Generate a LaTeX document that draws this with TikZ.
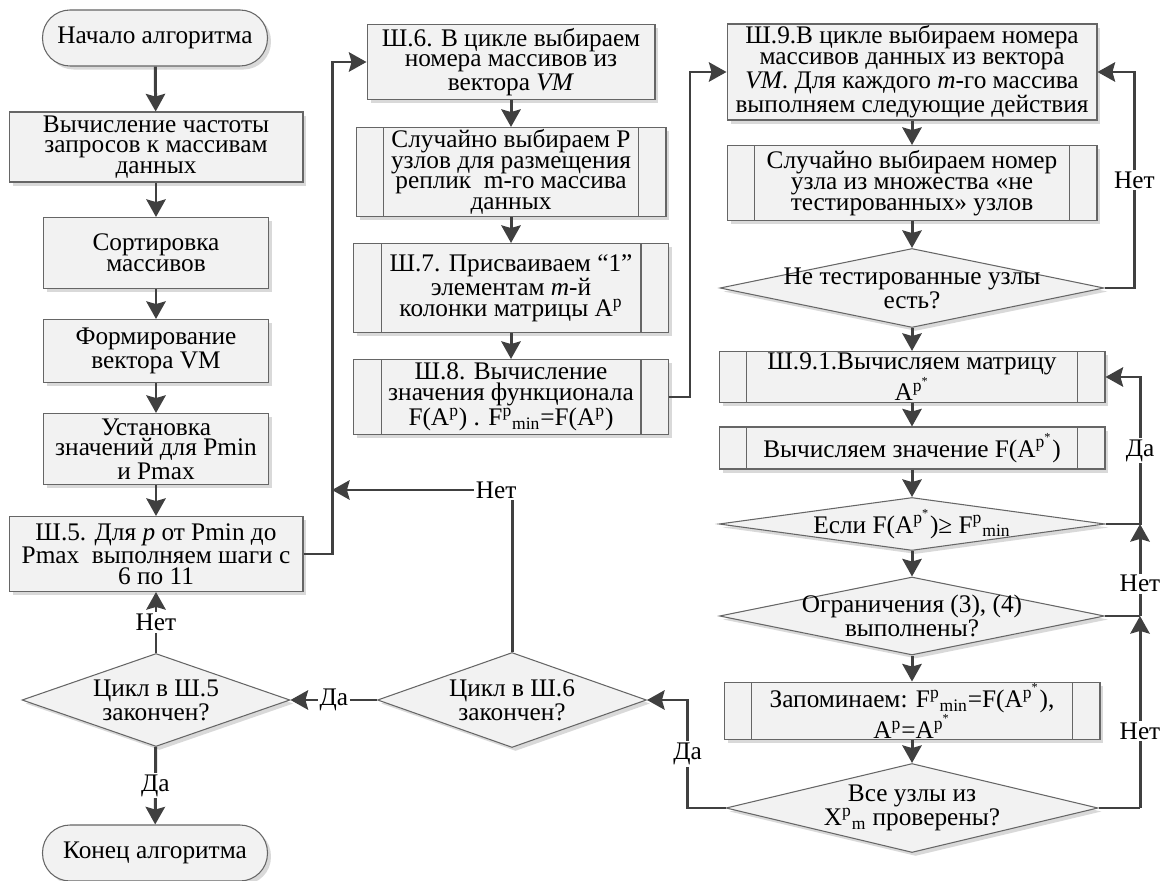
\documentclass[tikz,border=0pt]{standalone}
\usepackage{fontspec}
\setmainfont{Liberation Serif}
\usetikzlibrary{arrows.meta,shapes.geometric,shadows}
\newcommand\inset{0.55cm}
\newcommand\fs[1]{\fontsize{#1}{11.8}\selectfont}

\begin{document}
\begin{tikzpicture}[
      x=0.02cm, y=-0.02cm,
      font=\fs{14.4},
      block/.style = {
        draw=black!60,
        line width=0.6pt,
        fill=black!5,
        align=center,
        inner sep=1pt,
        drop shadow={shadow xshift=2pt, shadow yshift=-2pt, fill=black!15, opacity=1},
      },
      term/.style = {
        block,
        rounded corners=0.55cm,
        minimum width=4.5cm,
        minimum height=1.12cm,
      },
      subproc/.style = {
        block,
        path picture={
          \draw[black!60, line width=0.6pt]
            ([xshift=\inset]path picture bounding box.north west) -- ([xshift=\inset]path picture bounding box.south west)
            ([xshift=-\inset]path picture bounding box.north east) -- ([xshift=-\inset]path picture bounding box.south east);
        },
      },
      dec/.style = {
        block,
        diamond,
        inner sep=0pt,
      },
      arr/.style = {
        draw=black!75,
        line width=1.7pt,
        -{Stealth[length=10pt, width=11pt, inset=1.5pt]},
      },
      wire/.style = {
        draw=black!75,
        line width=1.7pt,
      },
      lbl/.style = {
        fill=white,
        inner sep=1pt,
      },
      every label/.style = {align=center},
    ]
      \useasboundingbox (0,0) rectangle (1169,881);

      % left column
      \node[term] (start) at (155,38) {Начало алгоритма};
      \node[block, minimum width=5.88cm, minimum height=1.4cm] (b1) at (156,147) {Вычисление частоты\\запросов к массивам\\данных};
      \node[block, minimum width=4.5cm, minimum height=1.42cm] (b2) at (156,253) {Сортировка\\массивов};
      \node[block, minimum width=4.5cm, minimum height=1.26cm] (b3) at (156,351) {Формирование\\вектора VM};
      \node[block, minimum width=4.5cm, minimum height=1.42cm] (b4) at (156,449) {Установка\\значений для Pmin\\и Pmax};
      \node[block, minimum width=5.88cm, minimum height=1.5cm] (b5) at (156,554) {Ш.5. Для \textit{p} от Pmin до\\Pmax\ \ выполняем шаги с\\6 по 11};
      \node[dec, minimum width=5.36cm, minimum height=1.86cm, label={center:Цикл в Ш.5\\закончен?}] (d5) at (156,700) {};
      \node[term] (stop) at (155,853) {Конец алгоритма};

      % middle column
      \node[block, minimum width=5.76cm, minimum height=1.5cm] (sh6) at (511,62) {Ш.6. В цикле выбираем\\номера массивов из\\вектора \textit{VM}};
      \node[subproc, minimum width=6.2cm, minimum height=1.78cm] (r1) at (511,172) {Случайно выбираем P\\узлов для размещения\\реплик\ \ m-го массива\\данных};
      \node[subproc, minimum width=6.3cm, minimum height=1.78cm] (sh7) at (511,288) {Ш.7. Присваиваем “1”\\элементам \textit{m}-й\\колонки матрицы A\textsuperscript{p}};
      \node[subproc, minimum width=6.3cm, minimum height=1.5cm] (sh8) at (511,397) {Ш.8. Вычисление\\значения функционала\\F(A\textsuperscript{p}) . F\textsuperscript{p}\textsubscript{min}=F(A\textsuperscript{p})};
      \node[dec, minimum width=5.38cm, minimum height=1.9cm, label={center:Цикл в Ш.6\\закончен?}] (d6) at (512,700) {};

      % right column
      \node[block, minimum width=7.4cm, minimum height=1.86cm] (sh9) at (912,72) {Ш.9.В цикле выбираем номера\\массивов данных из вектора\\\textit{VM}. Для каждого \textit{m}-го массива\\выполняем следующие действия};
      \node[subproc, minimum width=7.4cm, minimum height=1.5cm] (r2) at (912,183) {Случайно выбираем номер\\узла из множества «не\\тестированных» узлов};
      \node[dec, minimum width=7.68cm, minimum height=1.58cm, label={center:Не тестированные узлы\\есть?}] (d1) at (912,288) {};
      \node[subproc, minimum width=7.72cm, minimum height=0.86cm] (sh91) at (912,377) {Ш.9.1.Вычисляем матрицу\\A\textsuperscript{p\textsuperscript{*}}};
      \node[subproc, minimum width=7.72cm, minimum height=0.84cm] (r3) at (912,448) {Вычисляем значение F(A\textsuperscript{p\textsuperscript{*}})};
      \node[dec, minimum width=7.72cm, minimum height=1.06cm, label={center:Если F(A\textsuperscript{p\textsuperscript{*}})≥ F\textsuperscript{p}\textsubscript{min}}] (d2) at (912,524) {};
      \node[dec, minimum width=7.7cm, minimum height=1.56cm, label={center:Ограничения (3), (4)\\выполнены?}] (d3) at (912,616) {};
      \node[subproc, minimum width=7.52cm, minimum height=1.04cm] (r4) at (912,711) {Запоминаем: F\textsuperscript{p}\textsubscript{min}=F(A\textsuperscript{p\textsuperscript{*}}),\\A\textsuperscript{p}=A\textsuperscript{p\textsuperscript{*}}};
      \node[dec, minimum width=7.44cm, minimum height=1.78cm, label={center:Все узлы из\\X\textsuperscript{p}\textsubscript{m} проверены?}] (d4) at (912,808) {};

      \coordinate (j1) at (332,490);
      \coordinate (j5) at (512,490);
      \coordinate (j2) at (1140,524);
      \coordinate (j3) at (1140,616);
      \coordinate (j4) at (1140,808);

      \draw[arr] (start) -- (b1);
      \draw[arr] (b1) -- (b2);
      \draw[arr] (b2) -- (b3);
      \draw[arr] (b3) -- (b4);
      \draw[arr] (b4) -- (b5);
      \draw[arr] (d5) -- node[lbl] {Нет} (b5);
      \draw[arr] (d5) -- node[lbl] {Да} (stop);
      \draw[arr] (b5.east) -- ++(29,0) |- (sh6.west);

      \draw[arr] (sh6) -- (r1);
      \draw[arr] (r1) -- (sh7);
      \draw[arr] (sh7) -- (sh8);
      \draw[arr] (sh8.east) -- ++(21,0) |- (sh9.west);
      \draw[arr] (d6.north) -- (j5) node[lbl, xshift=-9] {Нет} -- (j1);
      \draw[arr] (d6.west) -- node[lbl] {Да} (d5.east);

      \draw[arr] (sh9) -- (r2);
      \draw[arr] (r2) -- (d1);
      \draw[arr] (d1) -- (sh91);
      \draw[arr] (d1.east) -- ++(30,0) |- node[lbl, pos=0.25] {Нет} (sh9.east);
      \draw[arr] (sh91) -- (r3);
      \draw[arr] (r3) -- (d2);
      \draw[arr] (d2) -- (d3);
      \draw[arr] (d3) -- (r4);
      \draw[arr] (r4) -- (d4);
      \draw[arr] (d2.east) -- (j2) |- node[lbl, pos=0.25] {Да} (sh91.east);
      \draw[wire] (d3.east) -- (j3);
      \draw[arr] (j3) -- node[lbl, pos=0.35] {Нет} (j2);
      \draw[wire] (d4.east) -- (j4);
      \draw[arr] (j4) -- node[lbl, pos=0.4] {Нет} (j3);
      \draw[arr] (d4.west) -- ++(-38,0) |- node[lbl, pos=0.25] {Да} (d6.east);

    \end{tikzpicture}
\end{document}
